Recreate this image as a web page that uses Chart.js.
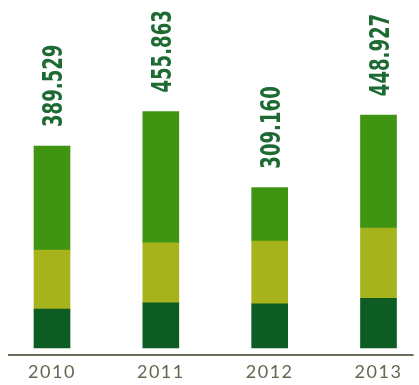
<!DOCTYPE html>
<html>
<head>
<meta charset="utf-8">
<script src="https://cdn.jsdelivr.net/npm/chart.js@4"></script>
<style>
  html, body { margin: 0; padding: 0; background: #fff; }
  #wrap { width: 419px; height: 385px; }
</style>
</head>
<body>
<div id="wrap"><canvas id="chart"></canvas></div>
<script>
const years = ['2010', '2011', '2012', '2013'];
const totalLabels = ['389.529', '455.863', '309.160', '448.927'];
const bottomPart = [75, 87, 85, 96];
const middlePart = [114, 116, 121, 135];
const topPart = [200.5, 252.9, 103.2, 217.9];

const darkGreen = '#0d5c24';
const lime = '#a6b31d';
const green = '#3f9411';

// letter spacing for the year ticks, baseline under the bars
const baseLine = {
    id: 'baseLine',
    beforeDraw(chart) {
        chart.ctx.letterSpacing = '1.5px';
    },
    beforeDatasetsDraw(chart) {
        const {ctx, chartArea} = chart;
        const y = chart.scales.y.bottom;
        ctx.save();
        ctx.strokeStyle = '#6d6b59';
        ctx.lineWidth = 2;
        ctx.beginPath();
        ctx.moveTo(chartArea.left - 44, y);
        ctx.lineTo(chartArea.right + 35, y);
        ctx.stroke();
        ctx.restore();
    }
};

// rotated totals above each stack
const totalsLabels = {
    id: 'totalsLabels',
    afterDatasetsDraw(chart) {
        const ctx = chart.ctx;
        const meta = chart.getDatasetMeta(chart.data.datasets.length - 1);
        ctx.save();
        ctx.letterSpacing = '0px';
        ctx.fillStyle = '#1d6a33';
        ctx.font = 'bold 27px "DejaVu Sans"';
        ctx.textAlign = 'left';
        ctx.textBaseline = 'alphabetic';
        meta.data.forEach((bar, i) => {
            ctx.save();
            ctx.translate(bar.x, bar.y - 19);
            ctx.rotate(-Math.PI / 2);
            ctx.scale(0.67, 1);
            ctx.fillText(totalLabels[i], 0, 10);
            ctx.restore();
        });
        ctx.restore();
    }
};

new Chart(document.getElementById('chart'), {
    type: 'bar',
    data: {
        labels: years,
        datasets: [
            {data: bottomPart, backgroundColor: darkGreen},
            {data: middlePart, backgroundColor: lime},
            {data: topPart, backgroundColor: green}
        ]
    },
    options: {
        responsive: true,
        maintainAspectRatio: false,
        animation: false,
        events: [],
        layout: {padding: {left: 52, right: 40.5, top: 0, bottom: -4.4}},
        datasets: {bar: {barThickness: 36, borderWidth: 0, clip: false}},
        plugins: {legend: {display: false}, tooltip: {enabled: false}},
        scales: {
            x: {
                stacked: true,
                offset: false,
                grid: {display: false, drawTicks: false},
                border: {display: false},
                ticks: {
                    color: '#67664f',
                    padding: 6.4,
                    font: {family: 'Lato', size: 18}
                }
            },
            y: {
                stacked: true,
                display: false,
                min: -13.5,
                max: 671
            }
        }
    },
    plugins: [baseLine, totalsLabels]
});
</script>
</body>
</html>
